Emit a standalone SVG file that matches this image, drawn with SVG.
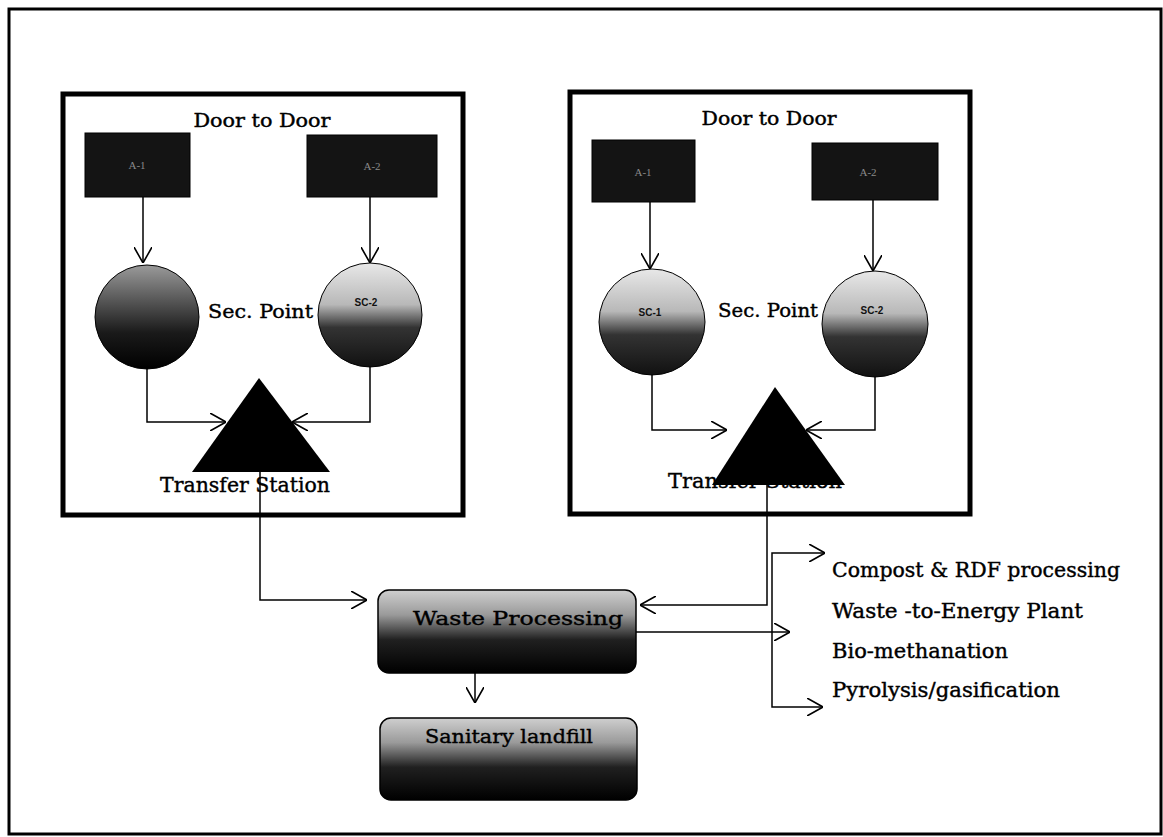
<svg xmlns="http://www.w3.org/2000/svg" width="1163" height="837" viewBox="0 0 1163 837">
<style>
.frame{fill:none;stroke:#000}
.abox{fill:#141414;stroke:#000;stroke-width:1}
.alab{font-family:"Liberation Serif",serif;font-size:11px;fill:#8a8a8a;text-anchor:middle}
.sclab{font-family:"Liberation Sans",sans-serif;font-size:10px;font-weight:bold;fill:#111;text-anchor:middle}
.t{font-family:"DejaVu Serif","Liberation Serif",serif;fill:#000;stroke:#000;stroke-width:0.4}
.c{fill:none;stroke:#000;stroke-width:1.5}
.tri{fill:#000}
.pbox{stroke:#000;stroke-width:1.5}
</style>
<defs>
<marker id="ah" viewBox="0 0 16 18" refX="16" refY="9" markerWidth="16" markerHeight="18" markerUnits="userSpaceOnUse" orient="auto">
<path d="M0,0 L16,9 L0,18" fill="none" stroke="#000" stroke-width="1.6"/>
</marker>
<linearGradient id="gDark" x1="0" y1="0" x2="0" y2="1">
<stop offset="0" stop-color="#9a9a9a"/>
<stop offset="0.35" stop-color="#555"/>
<stop offset="0.65" stop-color="#1a1a1a"/>
<stop offset="1" stop-color="#000"/>
</linearGradient>
<linearGradient id="gLight" x1="0" y1="0" x2="0" y2="1">
<stop offset="0" stop-color="#e8e8e8"/>
<stop offset="0.4" stop-color="#b8b8b8"/>
<stop offset="0.62" stop-color="#333"/>
<stop offset="1" stop-color="#111"/>
</linearGradient>
<linearGradient id="gBox" x1="0" y1="0" x2="0" y2="1">
<stop offset="0" stop-color="#cfcfcf"/>
<stop offset="0.3" stop-color="#9a9a9a"/>
<stop offset="0.6" stop-color="#202020"/>
<stop offset="1" stop-color="#000"/>
</linearGradient>
</defs>
<rect width="1163" height="837" fill="#fff"/>
<rect class="frame" x="9" y="9" width="1152" height="825" stroke-width="3"/>

<g id="left-area">
<rect class="frame" x="63" y="94" width="400" height="421" stroke-width="5"/>
<text class="t" x="262" y="127" font-size="18" text-anchor="middle" textLength="137" lengthAdjust="spacingAndGlyphs">Door to Door</text>
<text class="t" x="208" y="318" font-size="19" textLength="105" lengthAdjust="spacingAndGlyphs">Sec. Point</text>
</g>
<g id="left-a1"><rect class="abox" x="85" y="133" width="105" height="64"/><text class="alab" x="137" y="169">A-1</text></g>
<g id="left-a2"><rect class="abox" x="307" y="135" width="130" height="62"/><text class="alab" x="372" y="170">A-2</text></g>
<g id="left-sc1"><circle cx="147" cy="317" r="52" fill="url(#gDark)" stroke="#000" stroke-width="1"/></g>
<g id="left-sc2"><circle cx="370" cy="315" r="52" fill="url(#gLight)" stroke="#000" stroke-width="1"/><text class="sclab" x="366" y="306">SC-2</text></g>
<g id="left-transfer">
<text class="t" x="160" y="492" font-size="21" textLength="170" lengthAdjust="spacingAndGlyphs">Transfer Station</text>
<polygon class="tri" points="259,378 330,472 192,472"/>
</g>

<g id="right-area">
<rect class="frame" x="570" y="92" width="400" height="422" stroke-width="5"/>
<text class="t" x="769" y="125" font-size="18" text-anchor="middle" textLength="135" lengthAdjust="spacingAndGlyphs">Door to Door</text>
<text class="t" x="718" y="317" font-size="19" textLength="100" lengthAdjust="spacingAndGlyphs">Sec. Point</text>
</g>
<g id="right-a1"><rect class="abox" x="592" y="140" width="103" height="62"/><text class="alab" x="643" y="176">A-1</text></g>
<g id="right-a2"><rect class="abox" x="812" y="143" width="126" height="57"/><text class="alab" x="868" y="176">A-2</text></g>
<g id="right-sc1"><circle cx="652" cy="322" r="53" fill="url(#gLight)" stroke="#000" stroke-width="1"/><text class="sclab" x="650" y="316">SC-1</text></g>
<g id="right-sc2"><circle cx="875" cy="324" r="53" fill="url(#gLight)" stroke="#000" stroke-width="1"/><text class="sclab" x="872" y="314">SC-2</text></g>
<g id="right-transfer">
<text class="t" x="668" y="488" font-size="21" textLength="174" lengthAdjust="spacingAndGlyphs">Transfer Station</text>
<polygon class="tri" points="775,387 845,485 712,485"/>
</g>

<g id="waste-processing">
<rect class="pbox" x="378" y="590" width="258" height="83" rx="11" fill="url(#gBox)"/>
<text class="t" x="518" y="625" font-size="19" text-anchor="middle" textLength="210" lengthAdjust="spacingAndGlyphs" fill="#1a1a1a">Waste Processing</text>
</g>
<g id="sanitary-landfill">
<rect class="pbox" x="380" y="718" width="257" height="82" rx="11" fill="url(#gBox)"/>
<text class="t" x="509" y="743" font-size="19" text-anchor="middle" textLength="168" lengthAdjust="spacingAndGlyphs" fill="#1a1a1a">Sanitary landfill</text>
</g>

<g id="options">
<text class="t" x="832" y="577" font-size="20" textLength="288" lengthAdjust="spacingAndGlyphs">Compost &amp; RDF processing</text>
<text class="t" x="832" y="618" font-size="20" textLength="251" lengthAdjust="spacingAndGlyphs">Waste -to-Energy Plant</text>
<text class="t" x="832" y="658" font-size="20" textLength="176" lengthAdjust="spacingAndGlyphs">Bio-methanation</text>
<text class="t" x="832" y="697" font-size="20" textLength="228" lengthAdjust="spacingAndGlyphs">Pyrolysis/gasification</text>
</g>

<g id="connectors">
<path class="c" d="M143,197 V263" marker-end="url(#ah)"/>
<path class="c" d="M370,197 V263" marker-end="url(#ah)"/>
<path class="c" d="M147,369 V422 H226" marker-end="url(#ah)"/>
<path class="c" d="M370,367 V422 H292" marker-end="url(#ah)"/>
<path class="c" d="M260,472 V600 H367" marker-end="url(#ah)"/>
<path class="c" d="M650,202 V269" marker-end="url(#ah)"/>
<path class="c" d="M873,200 V271" marker-end="url(#ah)"/>
<path class="c" d="M652,375 V430 H727" marker-end="url(#ah)"/>
<path class="c" d="M875,377 V430 H806" marker-end="url(#ah)"/>
<path class="c" d="M767,485 V605 H640" marker-end="url(#ah)"/>
<path class="c" d="M636,632 H790" marker-end="url(#ah)"/>
<path class="c" d="M772,632 V553 H825" marker-end="url(#ah)"/>
<path class="c" d="M772,632 V707 H823" marker-end="url(#ah)"/>
<path class="c" d="M475,673 V703" marker-end="url(#ah)"/>
</g>
</svg>
